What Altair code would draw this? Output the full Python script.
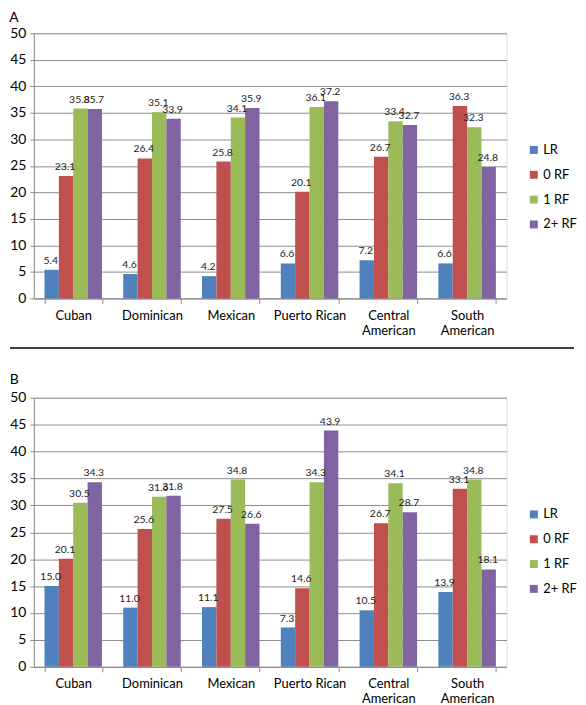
import altair as alt
import pandas as pd

categories = ["Cuban", "Dominican", "Mexican", "Puerto Rican", "Central American", "South American"]
series = ["LR", "0 RF", "1 RF", "2+ RF"]
colors = ["#4F81BD", "#C0504D", "#9BBB59", "#8064A2"]

a_lr = [5.4, 4.6, 4.2, 6.6, 7.2, 6.6]
a_0rf = [23.1, 26.4, 25.8, 20.1, 26.7, 36.3]
a_1rf = [35.8, 35.1, 34.1, 36.1, 33.4, 32.3]
a_2rf = [35.7, 33.9, 35.9, 37.2, 32.7, 24.8]

b_lr = [15.0, 11.0, 11.1, 7.3, 10.5, 13.9]
b_0rf = [20.1, 25.6, 27.5, 14.6, 26.7, 33.1]
b_1rf = [30.5, 31.6, 34.8, 34.3, 34.1, 34.8]
b_2rf = [34.3, 31.8, 26.6, 43.9, 28.7, 18.1]

FONT = "Lato"


def make_df(lists):
    rows = []
    for s, vals in zip(series, lists):
        for c, v in zip(categories, vals):
            rows.append({"cat": c, "series": s, "val": v})
    return pd.DataFrame(rows)


label_expr = ("datum.label == 'Central American' ? ['Central', 'American'] : "
              "datum.label == 'South American' ? ['South', 'American'] : datum.label")


def panel(df, title, height, title_offset, divider_y=None):
    base = alt.Chart(df)
    x = alt.X("cat:N", sort=categories,
              scale=alt.Scale(paddingInner=0.27, paddingOuter=0.135),
              axis=alt.Axis(title=None, labelAngle=0, tickBand="extent", labelExpr=label_expr,
                            grid=False, domainColor="#8c8c8c", tickColor="#8c8c8c", tickSize=5,
                            labelFontSize=13, labelPadding=6, labelColor="#000000", labelFont=FONT,
                            labelLineHeight=15))
    y = alt.Y("val:Q", scale=alt.Scale(domain=[0, 50], nice=False),
              axis=alt.Axis(title=None, values=list(range(0, 55, 5)), grid=True, gridColor="#8c8c8c",
                            domainColor="#8c8c8c", tickColor="#8c8c8c", tickSize=4,
                            labelFontSize=14, labelColor="#000000", labelFont=FONT, labelPadding=4))
    xo = alt.XOffset("series:N", sort=series, scale=alt.Scale(paddingInner=0, paddingOuter=0))
    color = alt.Color("series:N", sort=series, scale=alt.Scale(domain=series, range=colors),
                      legend=alt.Legend(title=None, orient="none", legendX=497, legendY=111,
                                        symbolType="square", symbolSize=64, symbolStrokeWidth=0,
                                        labelFontSize=13, labelFont=FONT, labelColor="#000000",
                                        rowPadding=11, labelOffset=3))
    bars = base.mark_bar().encode(x=x, y=y, xOffset=xo, color=color)
    text = base.mark_text(dy=-4, dx=-1, baseline="bottom", fontSize=10.5, font=FONT,
                          color="#222222").encode(
        x=x, y=y, xOffset=xo, text=alt.Text("val:Q", format=".1f"))
    layers = [bars, text]
    if divider_y is not None:
        rule = alt.Chart(pd.DataFrame({"a": [0]})).mark_rule(color="#000000", strokeWidth=1.5).encode(
            x=alt.value(-24), x2=alt.value(544), y=alt.value(divider_y))
        layers.append(rule)
    return alt.layer(*layers).properties(
        width=476, height=height,
        title=alt.Title(title, anchor="start", frame="bounds", fontSize=14, fontWeight="normal",
                        font=FONT, color="#000000", offset=title_offset))


pa = panel(make_df([a_lr, a_0rf, a_1rf, a_2rf]), "A", 267, 1, divider_y=317)
pb = panel(make_df([b_lr, b_0rf, b_1rf, b_2rf]), "B", 271, 4)

chart = alt.vconcat(pa, pb, spacing=22).resolve_legend(color="independent").configure_view(
    stroke=None).configure(background="white").properties(padding=0)

chart.save("out.html", embed_options={"renderer": "svg", "actions": False})
